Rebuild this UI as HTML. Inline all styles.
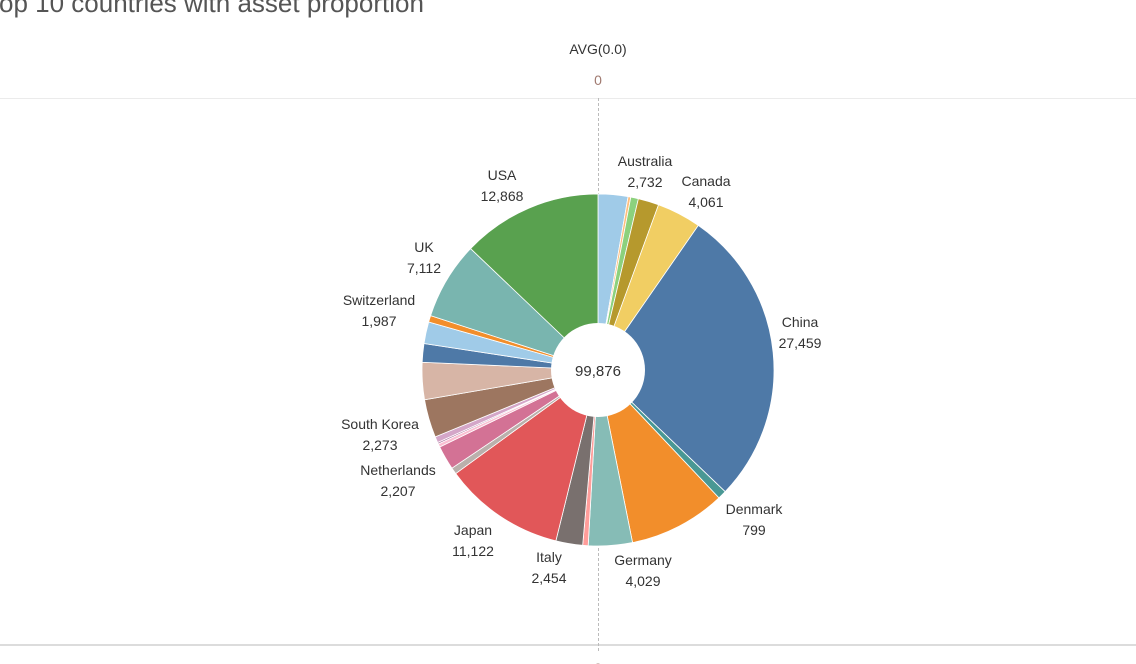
<!DOCTYPE html>
<html><head><meta charset="utf-8">
<style>
html,body{margin:0;padding:0;background:#fff;}
body{width:1136px;height:664px;overflow:hidden;position:relative;font-family:"Liberation Sans",sans-serif;}
svg{position:absolute;left:0;top:0;}
text{font-family:"Liberation Sans",sans-serif;}
</style></head>
<body>
<svg id="chart" width="1136" height="664" viewBox="0 0 1136 664">
  <text x="-14" y="12" font-size="26" fill="#555">Top 10 countries with asset proportion</text>
  <text x="598" y="54" text-anchor="middle" font-size="14" fill="#333">AVG(0.0)</text>
  <text x="598" y="85" text-anchor="middle" font-size="14" fill="#a07a70">0</text>
  <line x1="0" y1="98.5" x2="1136" y2="98.5" stroke="#ebebeb" stroke-width="1"/>
  <line x1="0" y1="645" x2="1136" y2="645" stroke="#dcdcdc" stroke-width="2"/>
  <line x1="598.5" y1="98" x2="598.5" y2="652" stroke="#bbb" stroke-width="1" stroke-dasharray="3,2"/>
  <text x="598" y="673" text-anchor="middle" font-size="14" fill="#a07a70">0</text>
  <g id="slices"></g>
  <g id="labels"></g>
</svg>
<script>
const sliceNames = ["Australia","s2","s3","s4","Canada","China","Denmark","s8","Germany","s10","Italy","Japan","s13","Netherlands","s15","s16","s17","s18","s19","s20","Switzerland","s22","UK","USA"];
const sliceValues = [2732,250,700,1900,4061,27459,799,8896,4029,500,2454,11122,600,2207,300,150,550,3500,3400,1700,1987,600,7112,12868];
const sliceColors = ["#a0cbe8","#ffbe7d","#8cd17d","#b6992d","#f1ce63","#4e79a7","#499894","#f28e2b","#86bcb6","#ff9d9a","#79706e","#e15759","#bab0ac","#d37295","#fabfd2","#b07aa1","#d4a6c8","#9d7660","#d7b5a6","#4e79a7","#a0cbe8","#f28e2b","#79b5af","#59a14f"];
const labelNames = ["Australia","Canada","China","Denmark","Germany","Italy","Japan","Netherlands","South Korea","Switzerland","UK","USA"];
const labelValues = [2732,4061,27459,799,4029,2454,11122,2207,2273,1987,7112,12868];
const labelX = [645,706,800,754,643,549,473,398,380,379,424,502];
const labelY = [161,181,322,509,560,557,530,470,424,300,247,175];

const cx=598, cy=370, R=176, r0=47;
const total = sliceValues.reduce((a,b)=>a+b,0);
const angle = v => v/total*2*Math.PI;
const pt = (a,rad)=>[cx+rad*Math.sin(a), cy-rad*Math.cos(a)];
const fmt = v => v.toLocaleString('en-US');
const NS="http://www.w3.org/2000/svg";
const g=document.getElementById('slices');
let acc=0;
sliceValues.forEach((v,i)=>{
  const a0=acc, a1=acc+angle(v); acc=a1;
  const p0=pt(a0,R), p1=pt(a1,R);
  const large=(a1-a0)>Math.PI?1:0;
  const p=document.createElementNS(NS,'path');
  p.setAttribute('d',`M${cx},${cy} L${p0[0]},${p0[1]} A${R},${R} 0 ${large} 1 ${p1[0]},${p1[1]} Z`);
  p.setAttribute('fill',sliceColors[i]);
  p.setAttribute('stroke','#fff');
  p.setAttribute('stroke-width','0.8');
  
  
  g.appendChild(p);
});
const hole=document.createElementNS(NS,'circle');
hole.setAttribute('cx',cx);hole.setAttribute('cy',cy);hole.setAttribute('r',r0);hole.setAttribute('fill','#fff');


g.appendChild(hole);
const ct=document.createElementNS(NS,'text');
ct.setAttribute('x',cx);ct.setAttribute('y',cy+6);ct.setAttribute('text-anchor','middle');
ct.setAttribute('font-size','15');ct.setAttribute('fill','#333');
ct.textContent=fmt(total);


g.appendChild(ct);

const lg=document.getElementById('labels');
labelNames.forEach((n,i)=>{
  const t=document.createElementNS(NS,'text');
  t.setAttribute('text-anchor','middle');t.setAttribute('font-size','14');t.setAttribute('fill','#333');
  
  
  const s1=document.createElementNS(NS,'tspan');
  s1.setAttribute('x',labelX[i]);s1.setAttribute('y',labelY[i]+5);s1.textContent=n;
  const s2=document.createElementNS(NS,'tspan');
  s2.setAttribute('x',labelX[i]);s2.setAttribute('y',labelY[i]+26);s2.textContent=fmt(labelValues[i]);
  t.appendChild(s1);t.appendChild(s2);
  lg.appendChild(t);
});
</script>
</body></html>
